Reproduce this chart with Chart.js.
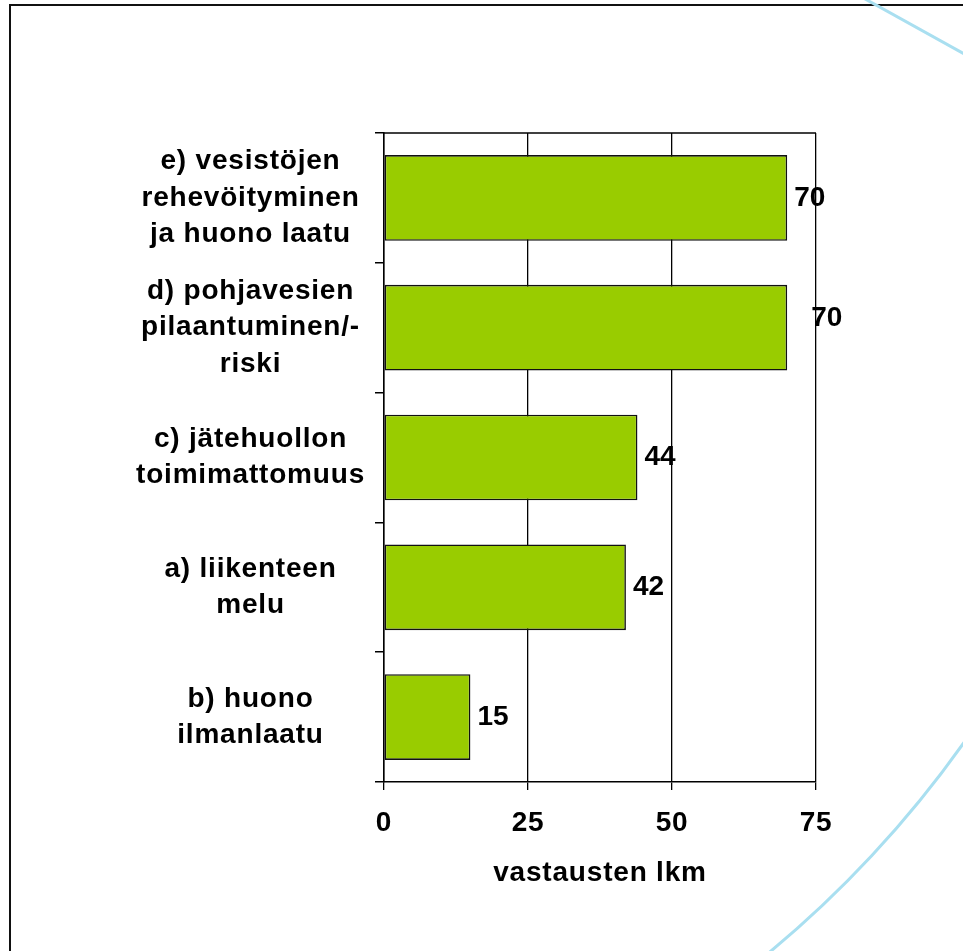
<!DOCTYPE html>
<html>
<head>
<meta charset="utf-8">
<script src="https://cdn.jsdelivr.net/npm/chart.js@4.4.0/dist/chart.umd.min.js"></script>
<style>
  html, body { margin: 0; padding: 0; background: #fff; }
  canvas { display: block; }
</style>
</head>
<body>
<canvas id="chart" width="963" height="951"></canvas>
<script>
// Ympäristöongelmat, vastausten lukumäärä
const categories = [
  ['e) vesistöjen', 'rehevöityminen', 'ja huono laatu'],
  ['d) pohjavesien', 'pilaantuminen/-', 'riski'],
  ['c) jätehuollon', 'toimimattomuus'],
  ['a) liikenteen', 'melu'],
  ['b) huono', 'ilmanlaatu']
];
const answerCounts = [70, 70, 44, 42, 15];
const xTicks = [0, 25, 50, 75];
const axisTitle = 'vastausten lkm';

const FONT = "'Liberation Sans', Arial, sans-serif";
const SPACING = '0.8px';

// taustan kehys ja sininen kaari
const backdrop = {
  id: 'backdrop',
  beforeUpdate(chart) {
    chart.ctx.letterSpacing = SPACING;
  },
  beforeDraw(chart) {
    const ctx = chart.ctx;
    ctx.save();
    ctx.fillStyle = '#fff';
    ctx.fillRect(0, 0, chart.width, chart.height);
    ctx.strokeStyle = '#111';
    ctx.lineWidth = 2;
    ctx.strokeRect(10, 5, 1200, 1200);
    ctx.strokeStyle = '#a9dff0';
    ctx.lineWidth = 3;
    ctx.beginPath();
    ctx.arc(69, 108, 1097, 0.5, 1.0);
    ctx.stroke();
    ctx.beginPath();
    ctx.moveTo(858, -5);
    ctx.lineTo(975, 60);
    ctx.stroke();
    ctx.restore();
    ctx.letterSpacing = SPACING;
  },
  afterDraw(chart) {
    const {ctx, chartArea} = chart;
    ctx.save();
    ctx.strokeStyle = '#000';
    ctx.lineWidth = 1.5;
    ctx.beginPath();
    ctx.moveTo(chartArea.left, chartArea.top);
    ctx.lineTo(chartArea.right, chartArea.top);
    ctx.stroke();
    ctx.restore();
  }
};

// arvot palkkien perään
const valueLabels = {
  id: 'valueLabels',
  afterDatasetsDraw(chart) {
    const ctx = chart.ctx;
    const nudge = {1: [17, -9]};
    ctx.save();
    ctx.letterSpacing = '0px';
    ctx.font = 'bold 28px ' + FONT;
    ctx.fillStyle = '#000';
    ctx.textAlign = 'left';
    ctx.textBaseline = 'middle';
    chart.getDatasetMeta(0).data.forEach((bar, i) => {
      const [dx, dy] = nudge[i] || [0, 0];
      ctx.fillText(answerCounts[i], bar.x + 7 + dx, bar.y + dy);
    });
    ctx.restore();
  }
};

new Chart(document.getElementById('chart'), {
  type: 'bar',
  data: {
    labels: categories,
    datasets: [{
      data: answerCounts,
      backgroundColor: '#99cc00',
      borderColor: '#111',
      borderWidth: 1.6,
      borderSkipped: false,
      barPercentage: 0.66,
      categoryPercentage: 1
    }]
  },
  options: {
    indexAxis: 'y',
    responsive: false,
    animation: false,
    layout: { padding: { top: 133, right: 147, bottom: 0, left: 0 } },
    plugins: {
      legend: { display: false },
      tooltip: { enabled: false }
    },
    scales: {
      y: {
        afterFit(scale) { scale.width = 384; },
        grid: {
          drawOnChartArea: false,
          drawTicks: true,
          tickLength: 9,
          color: '#000',
          lineWidth: 1.5,
          offset: true
        },
        border: { display: true, color: '#000', width: 1.5 },
        ticks: {
          crossAlign: 'center',
          padding: 10,
          color: '#000',
          font: { family: FONT, size: 28, weight: 'bold', lineHeight: 1.3 }
        }
      },
      x: {
        min: 0,
        max: 75,
        afterFit(scale) { scale.height = 169; },
        afterBuildTicks(scale) { scale.ticks = xTicks.map(v => ({ value: v })); },
        grid: { color: '#000', lineWidth: 1.3, tickLength: 8 },
        border: { display: true, color: '#000', width: 1.5 },
        ticks: {
          padding: 16,
          color: '#000',
          font: { family: FONT, size: 28, weight: 'bold' }
        },
        title: {
          display: true,
          text: axisTitle,
          color: '#000',
          padding: { top: 0, bottom: 61 },
          font: { family: FONT, size: 28, weight: 'bold' }
        }
      }
    }
  },
  plugins: [backdrop, valueLabels]
});
</script>
</body>
</html>
